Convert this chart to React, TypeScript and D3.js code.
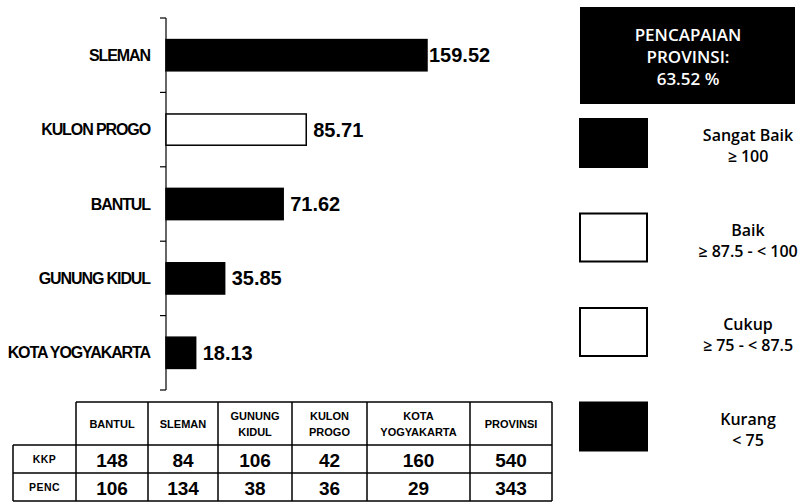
import React from 'react';
import * as d3 from 'd3';

// chart data
const categories = ['SLEMAN', 'KULON PROGO', 'BANTUL', 'GUNUNG KIDUL', 'KOTA YOGYAKARTA'];
const values = [159.52, 85.71, 71.62, 35.85, 18.13];

// table data
const tableColumns = ['BANTUL', 'SLEMAN', 'GUNUNG KIDUL', 'KULON PROGO', 'KOTA YOGYAKARTA', 'PROVINSI'];
const rowLabels = ['KKP', 'PENC'];
const kkp = [148, 84, 106, 42, 160, 540];
const penc = [106, 134, 38, 36, 29, 343];

// legend
const legendNames = ['Sangat Baik', 'Baik', 'Cukup', 'Kurang'];
const legendRanges = ['≥ 100', '≥ 87.5 - < 100', '≥ 75 - < 87.5', '< 75'];
const legendFills = ['#000', '#fff', '#fff', '#000'];
const provinceTitle = ['PENCAPAIAN', 'PROVINSI:', '63.52 %'];

const fillFor = (v: number) => (v >= 100 ? legendFills[0] : v >= 87.5 ? legendFills[1] : v >= 75 ? legendFills[2] : legendFills[3]);

const W = 812;
const H = 502;
const axisX = 166;

const App = () => {
  const x = d3.scaleLinear().domain([0, 159.52]).range([axisX, 427]);
  const y = d3.scaleBand<string>().domain(categories).range([18, 390]).paddingInner(0.58).paddingOuter(0.29);
  const step = y.step();
  const tickYs = d3.range(categories.length + 1).map((i) => 18 + i * step);
  const maxV = d3.max(values) as number;

  // table layout
  const colEdges = [76, 148, 218, 292, 367, 470, 552];
  const labelLeft = 13;
  const rowEdges = [402, 445, 473, 501];
  const rowData = [kkp, penc];

  const font = "'Liberation Sans', Arial, sans-serif";
  const legendFont = "'Open Sans', 'DejaVu Sans', sans-serif";

  return (
    <svg width={W} height={H} style={{ position: 'absolute', left: 0, top: 0, background: '#fff' }}>
      <rect width={W} height={H} fill="#fff" />

      {/* axis */}
      <line x1={axisX} x2={axisX} y1={tickYs[0]} y2={tickYs[tickYs.length - 1]} stroke="#000" strokeWidth={1.2} />
      {tickYs.map((t, i) => (
        <line key={i} x1={axisX - 6} x2={axisX} y1={t} y2={t} stroke="#000" strokeWidth={1.2} />
      ))}

      {/* bars */}
      {categories.map((c, i) => {
        const v = values[i];
        const by = y(c) as number;
        const bh = y.bandwidth();
        const gap = v === maxV ? 2 : 7;
        return (
          <g key={c}>
            <rect
              x={x(0)}
              y={by}
              width={x(v) - x(0)}
              height={bh}
              fill={fillFor(v)}
              stroke="#000"
              strokeWidth={1.5}
            />
            <text
              x={axisX - 16}
              y={by + bh / 2}
              textAnchor="end"
              dominantBaseline="central"
              fontFamily={font}
              fontWeight="bold"
              fontSize={16}
              letterSpacing={-1.1}
            >
              {c}
            </text>
            <text
              x={x(v) + gap}
              y={by + bh / 2}
              dominantBaseline="central"
              fontFamily={font}
              fontWeight="bold"
              fontSize={20}
            >
              {v.toFixed(2)}
            </text>
          </g>
        );
      })}

      {/* table */}
      <g fontFamily={font} fontWeight="bold" textAnchor="middle">
        {tableColumns.map((c, i) => {
          const cx = (colEdges[i] + colEdges[i + 1]) / 2;
          const words = c.split(' ');
          const lines = words.length > 1 ? [words[0], words.slice(1).join(' ')] : [c];
          const cy = (rowEdges[0] + rowEdges[1]) / 2;
          return (
            <g key={c}>
              {lines.map((l, j) => (
                <text
                  key={j}
                  x={cx}
                  y={lines.length === 1 ? cy : cy + (j - 0.5) * 16}
                  dominantBaseline="central"
                  fontSize={11}
                >
                  {l}
                </text>
              ))}
              {rowData.map((row, r) => (
                <text
                  key={r}
                  x={cx}
                  y={(rowEdges[r + 1] + rowEdges[r + 2]) / 2 + 1}
                  dominantBaseline="central"
                  fontSize={19}
                >
                  {row[i]}
                </text>
              ))}
            </g>
          );
        })}
        {rowLabels.map((l, r) => (
          <text
            key={l}
            x={(labelLeft + colEdges[0]) / 2}
            y={(rowEdges[r + 1] + rowEdges[r + 2]) / 2}
            dominantBaseline="central"
            fontSize={10.5}
            letterSpacing={0.5}
          >
            {l}
          </text>
        ))}
        {/* grid lines */}
        <g stroke="#000" strokeWidth={1.5}>
          <line x1={colEdges[0]} x2={colEdges[colEdges.length - 1]} y1={rowEdges[0]} y2={rowEdges[0]} />
          {rowEdges.slice(1).map((ry, k) => (
            <line key={k} x1={labelLeft} x2={colEdges[colEdges.length - 1]} y1={ry} y2={ry} />
          ))}
          <line x1={labelLeft} x2={labelLeft} y1={rowEdges[1]} y2={rowEdges[3]} />
          {colEdges.map((cx, k) => (
            <line key={k} x1={cx} x2={cx} y1={rowEdges[0]} y2={rowEdges[3]} />
          ))}
        </g>
      </g>

      {/* province box */}
      <rect x={580} y={7} width={215} height={97} fill="#000" />
      {provinceTitle.map((t, i) => (
        <text
          key={t}
          x={688}
          y={34 + i * 22}
          textAnchor="middle"
          dominantBaseline="central"
          fill="#fff"
          fontFamily={legendFont}
          fontWeight={600}
          fontSize={17}
        >
          {t}
        </text>
      ))}

      {/* legend */}
      {legendNames.map((n, i) => {
        const ly = 119 + i * 94.5;
        return (
          <g key={n}>
            <rect x={580} y={ly} width={67} height={48} fill={legendFills[i]} stroke="#000" strokeWidth={2} />
            <text
              x={748}
              y={ly + 16}
              textAnchor="middle"
              dominantBaseline="central"
              fontFamily={legendFont}
              fontWeight={600}
              fontSize={16}
            >
              {n}
            </text>
            <text
              x={748}
              y={ly + 37}
              textAnchor="middle"
              dominantBaseline="central"
              fontFamily={legendFont}
              fontWeight={600}
              fontSize={16}
            >
              {legendRanges[i]}
            </text>
          </g>
        );
      })}
    </svg>
  );
};

export default App;
